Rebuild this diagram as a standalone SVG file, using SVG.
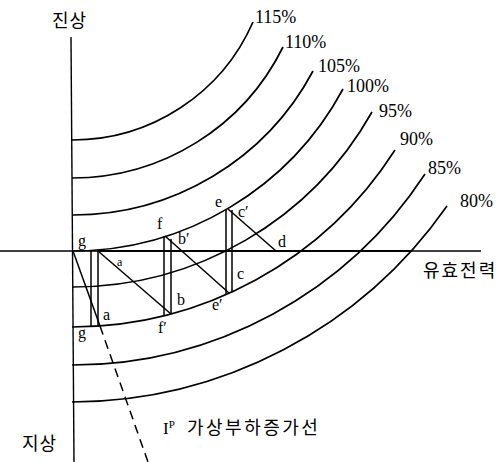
<svg xmlns="http://www.w3.org/2000/svg" width="504" height="462" viewBox="0 0 504 462">
<style>
.ax{stroke:#000;stroke-width:1.4;fill:none}
.cv{stroke:#000;stroke-width:1.7;fill:none}
.cl{stroke:#000;stroke-width:1.5;fill:none}
.pct{font-family:"Liberation Serif",serif;font-size:18px;fill:#000}
.lt{font-family:"Liberation Serif",serif;font-size:16px;fill:#000}
.ko{font-family:"Noto Sans CJK KR",sans-serif;font-size:18px;fill:#000;letter-spacing:1px}
</style>
<rect width="504" height="462" fill="#fff"/>
<g id="axes">
<line class="ax" x1="71" y1="37" x2="74" y2="462"/>
<line class="ax" x1="0" y1="251" x2="481" y2="251"/>
<line class="ax" x1="98" y1="251" x2="412" y2="251" style="stroke-width:2"/>
</g>
<g id="curves">
<g id="c115"><path class="cv" d="M72 140 A197 197 0 0 0 253 22"/><text class="pct" x="255" y="23">115%</text></g>
<g id="c110"><path class="cv" d="M72 178 A235 235 0 0 0 283 47"/><text class="pct" x="285" y="48">110%</text></g>
<g id="c105"><path class="cv" d="M72 215 A272 272 0 0 0 313 71"/><text class="pct" x="318" y="72">105%</text></g>
<g id="c100"><path class="cv" d="M72 251 A308 308 0 0 0 343 89"/><text class="pct" x="347" y="92">100%</text></g>
<g id="c95"><path class="cv" d="M72 287 A344 344 0 0 0 372 112"/><text class="pct" x="379" y="117">95%</text></g>
<g id="c90"><path class="cv" d="M72 327 A384 384 0 0 0 395 150"/><text class="pct" x="400" y="145">90%</text></g>
<g id="c85"><path class="cv" d="M72 365 A422 422 0 0 0 425 174"/><text class="pct" x="428" y="174">85%</text></g>
<g id="c80"><path class="cv" d="M72 402 A459 459 0 0 0 447 206"/><text class="pct" x="460" y="207">80%</text></g>
</g>
<g id="connectors">
<line class="cl" x1="73" y1="251" x2="100" y2="326"/>
<line class="cl" x1="100" y1="326" x2="148" y2="462" stroke-dasharray="9 6"/>
<line class="cl" x1="91" y1="251" x2="91" y2="326.5"/>
<line class="cl" x1="98" y1="251" x2="98" y2="326"/>
<line class="cl" x1="98" y1="251" x2="171" y2="314"/>
<line class="cl" x1="164" y1="236" x2="164" y2="316"/>
<line class="cl" x1="171" y1="239" x2="171" y2="314"/>
<line class="cl" x1="165" y1="236" x2="229" y2="293"/>
<line class="cl" x1="226" y1="209" x2="226" y2="294.5"/>
<line class="cl" x1="232" y1="210" x2="232" y2="292"/>
<line class="cl" x1="228" y1="209" x2="276" y2="251"/>
</g>
<g id="points">
<text class="lt" x="78" y="246">g</text>
<text class="lt" x="117" y="266" style="font-size:12px">a</text>
<text class="lt" x="103" y="320">a</text>
<text class="lt" x="78" y="338">g</text>
<text class="lt" x="157" y="229">f</text>
<text class="lt" x="178" y="244">b′</text>
<text class="lt" x="177" y="305">b</text>
<text class="lt" x="158" y="333">f′</text>
<text class="lt" x="215" y="207">e</text>
<text class="lt" x="238" y="217">c′</text>
<text class="lt" x="237" y="279">c</text>
<text class="lt" x="212" y="310">e′</text>
<text class="lt" x="278" y="247">d</text>
</g>
<g id="labels">
<text class="ko" x="52" y="27">진상</text>
<text class="ko" x="22" y="450">지상</text>
<text class="ko" x="423" y="277" style="letter-spacing:2px">유효전력</text>
<text class="lt" x="163" y="434" style="font-size:17px">I<tspan dy="-6" style="font-size:11px">P</tspan></text>
<text class="ko" x="187" y="434" style="letter-spacing:2.5px">가상부하증가선</text>
</g>
</svg>
